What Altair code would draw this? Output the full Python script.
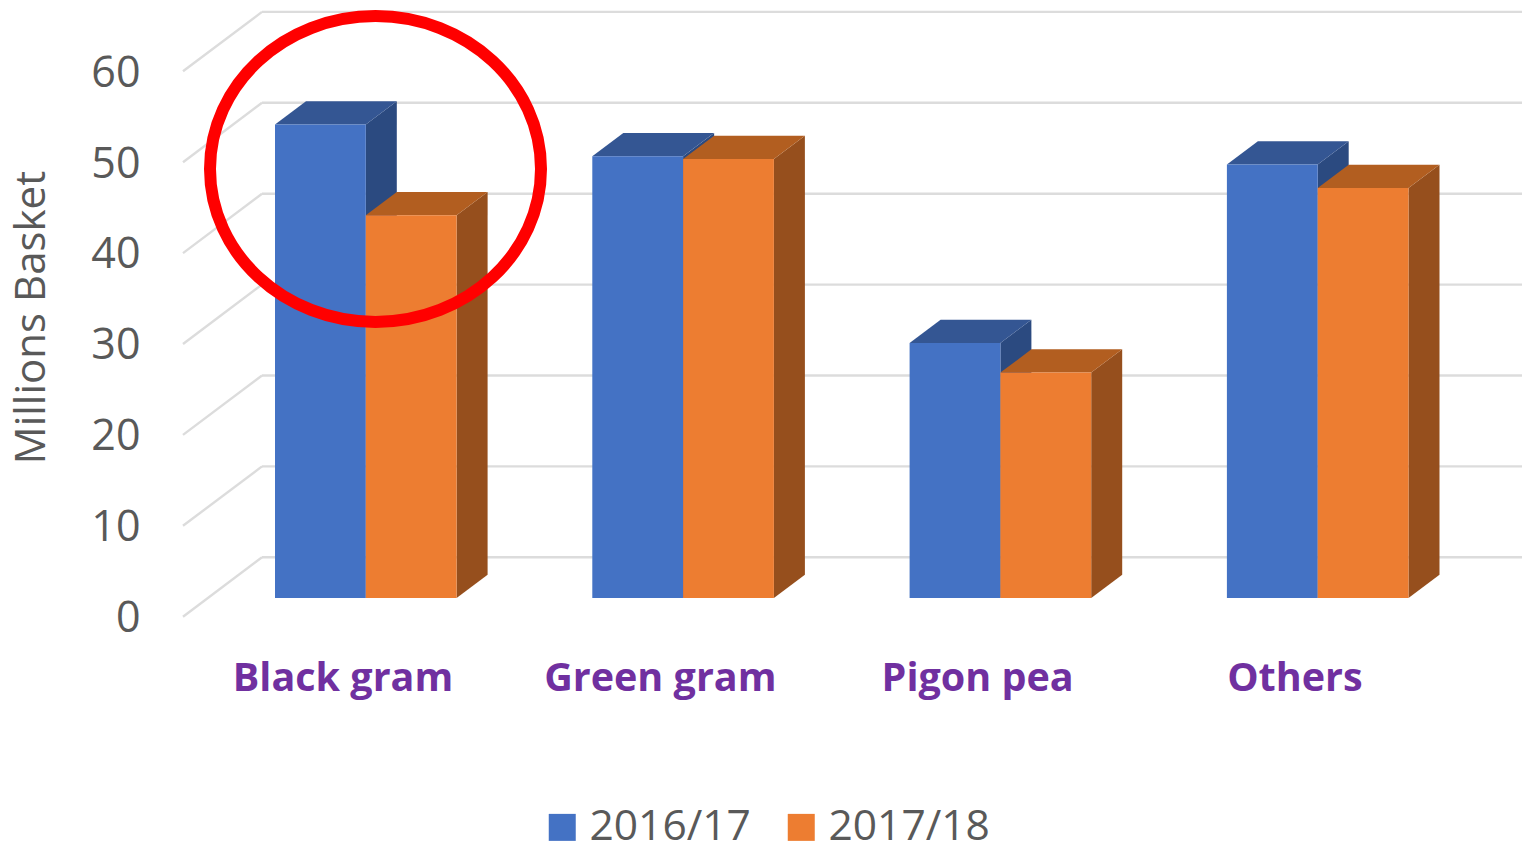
import altair as alt
import pandas as pd

categories = ["Black gram", "Green gram", "Pigon pea", "Others"]
series_names = ["2016/17", "2017/18"]
values_2016 = [52.1, 48.6, 28.05, 47.7]
values_2017 = [42.1, 48.3, 24.8, 45.1]
ticks = [0, 10, 20, 30, 40, 50, 60]
front_color = ["#4472C4", "#ED7D31"]
top_color = ["#345693", "#B25E20"]
side_color = ["#2B4A80", "#964F1D"]
GREY = "#595959"
FONT = "Open Sans"

# scale conversions: one category slot = 317.3 px, 10 units = 90.9 px
SLOT = 317.3
UNIT = 9.09
PLOT_W, PLOT_H = 1339, 632
x_dom = [-159.5 / SLOT, (PLOT_W - 159.5) / SLOT]
y_dom = [(598 - 640) / UNIT, (598 - 8) / UNIT]
x_s = alt.Scale(domain=x_dom, nice=False, zero=False)
y_s = alt.Scale(domain=y_dom, nice=False, zero=False)

BAR_W = 90.8 / SLOT
LEFT_OFF = -67.5 / SLOT      # front-left of first bar relative to label centre
DX = 31 / SLOT
DY = 23.2 / UNIT
WALL_X = (262 - 342.5) / SLOT
WALL_DY = 40.7 / UNIT
AXIS_DY = -18.7 / UNIT

x_axis = alt.Axis(
    values=[0, 1, 2, 3], labelExpr="['Black gram','Green gram','Pigon pea','Others'][datum.value]",
    title=None, domain=False, ticks=False, grid=False, labelFont=FONT, labelFontWeight="bold",
    labelFontSize=39.5, labelColor="#7030A0", labelPadding=19, labelFlush=False, labelOverlap=False,
    labelLimit=400,
)
y_axis = alt.Axis(
    values=ticks, title="Millions Basket", domain=False, ticks=False, grid=False, labelFont=FONT,
    labelFontSize=43, labelColor=GREY, labelPadding=43, labelOffset=20.5, labelFlush=False, labelOverlap=False,
    titleFont=FONT, titleFontSize=42, titleFontWeight="normal", titleColor=GREY, titleX=-152, titleY=309,
    titleAngle=270, titleAlign="center", titleBaseline="middle",
)

X = alt.X("x:Q", scale=x_s, axis=x_axis)
Y = alt.Y("y:Q", scale=y_s, axis=y_axis)

grid_rows = [{"x": WALL_X, "x2": x_dom[1], "y": t + WALL_DY, "y2": t + WALL_DY} for t in ticks]
diag_rows = [{"x": x_dom[0], "x2": WALL_X, "y": t + AXIS_DY, "y2": t + WALL_DY} for t in ticks]
frame = alt.Chart(pd.DataFrame(grid_rows + diag_rows)).mark_rule(color="#DCDCDC", strokeWidth=2.4).encode(
    x=X, x2="x2:Q", y=Y, y2="y2:Q"
)

layers = [frame]
for s, vals in enumerate([values_2016, values_2017]):
    side, top, front = [], [], []
    for i, v in enumerate(vals):
        xl = i + LEFT_OFF + s * BAR_W
        xr = xl + BAR_W
        side += [
            {"b": i, "x": xr, "y": 0, "y2": v},
            {"b": i, "x": xr + DX, "y": DY, "y2": v + DY},
        ]
        top += [
            {"b": i, "y": v, "x": xl, "x2": xr},
            {"b": i, "y": v + DY, "x": xl + DX, "x2": xr + DX},
        ]
        front.append({"x": xl, "x2": xr, "y": 0, "y2": v, "series": series_names[s]})
    layers.append(
        alt.Chart(pd.DataFrame(side)).mark_area(color=side_color[s], orient="vertical").encode(
            x=X, y=Y, y2="y2:Q", detail="b:N"
        )
    )
    layers.append(
        alt.Chart(pd.DataFrame(top)).mark_area(color=top_color[s], orient="horizontal").encode(
            y=Y, x=X, x2="x2:Q", detail="b:N"
        )
    )
    layers.append(
        alt.Chart(pd.DataFrame(front)).mark_rect().encode(
            x=X, x2="x2:Q", y=Y, y2="y2:Q",
            color=alt.Color(
                "series:N",
                scale=alt.Scale(domain=series_names, range=front_color),
                legend=alt.Legend(
                    title=None, orient="none", legendX=358, legendY=798, direction="horizontal",
                    symbolType="square", symbolSize=729, symbolStrokeWidth=0, labelFont=FONT,
                    labelFontSize=42.5, labelColor=GREY, columnPadding=29, labelOffset=6,
                    labelLimit=400, symbolOffset=0, padding=0,
                ),
            ),
        )
    )

highlight = alt.Chart(pd.DataFrame([{"x": (375.5 - 342.5) / SLOT, "y": (598 - 169) / UNIT}])).mark_point(
    shape="M-1,0 A1,0.924 0 1,1 1,0 A1,0.924 0 1,1 -1,0 Z",
    size=(2 * 165.5) ** 2, filled=False, stroke="#FF0000", strokeWidth=12, opacity=1,
).encode(x=X, y=Y)
layers.append(highlight)

chart = alt.layer(*layers).resolve_scale(color="shared").properties(
    width=PLOT_W, height=PLOT_H, background="white",
    padding={"left": 175, "top": 0, "right": 0, "bottom": 204},
    autosize=alt.AutoSizeParams(type="none"),
).configure_view(stroke=None, strokeWidth=0)

chart.save("out.html", embed_options={"renderer": "svg", "actions": False})
